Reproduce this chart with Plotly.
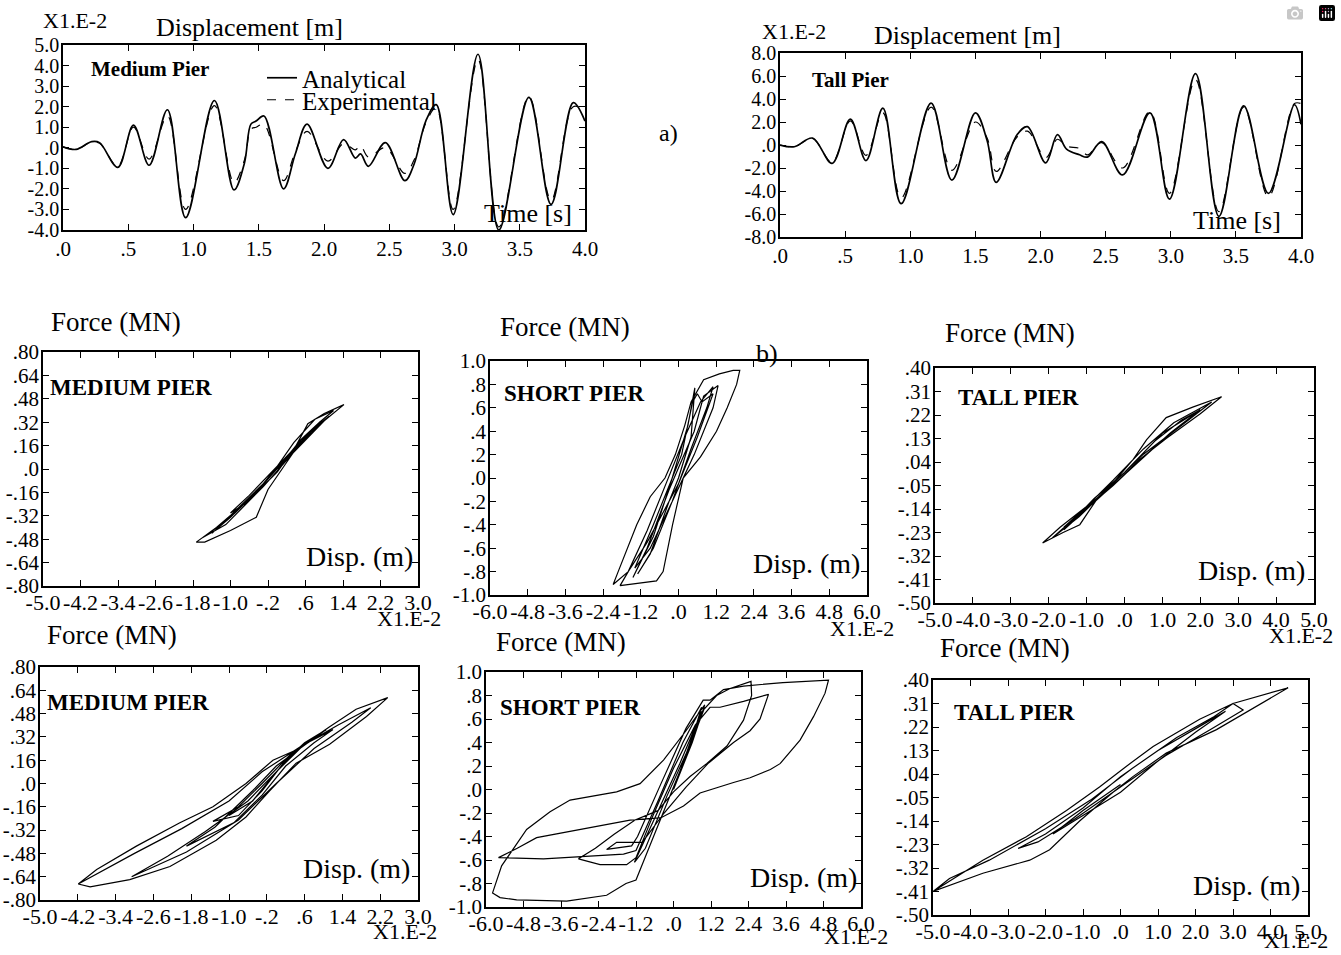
import plotly.graph_objects as go

W, H = 1341, 955
FONT = "Liberation Serif"

# ---------------- data: displacement time histories (x1e-2 m) ----------------
med_t = [0.00, 0.10, 0.22, 0.28, 0.42, 0.54, 0.66, 0.80, 0.94, 1.16, 1.31, 1.39, 1.44, 1.48, 1.54,
         1.69, 1.78, 1.87, 2.03, 2.15, 2.24, 2.28, 2.34, 2.47, 2.62, 2.69, 2.78, 2.86, 2.99, 3.18,
         3.34, 3.57, 3.74, 3.91, 4.00]
med_analytical = [0.05, -0.08, 0.30, 0.25, -0.95, 1.10, -0.85, 1.85, -3.40, 2.30, -2.05, -0.75, 1.15,
                  1.30, 1.55, -2.00, -0.30, 1.15, -1.00, 0.40, -0.50, -0.30, -0.90, 0.25, -1.60, -0.80,
                  1.30, 2.10, -3.25, 4.55, -4.00, 2.45, -2.75, 2.20, 1.30]
med_experimental = [0.05, -0.08, 0.28, 0.22, -0.90, 1.00, -0.55, 1.55, -3.00, 2.05, -1.70, -0.60, 0.90,
                    1.00, 1.15, -1.60, -0.20, 0.80, -0.65, 0.20, -0.10, 0.10, -0.45, 0.00, -1.25, -0.60,
                    1.20, 1.95, -3.00, 4.30, -3.85, 2.50, -2.55, 2.00, 1.80]

tall_t = [0.00, 0.11, 0.25, 0.40, 0.54, 0.66, 0.79, 0.93, 1.16, 1.32, 1.50, 1.59, 1.66, 1.82, 1.90,
          2.04, 2.13, 2.20, 2.30, 2.36, 2.47, 2.63, 2.84, 2.99, 3.19, 3.37, 3.56, 3.75, 3.95, 4.00]
tall_analytical = [0.00, -0.15, 0.60, -1.60, 2.25, -1.35, 3.20, -5.10, 3.65, -3.05, 2.80, 0.40, -3.25,
                   0.90, 1.60, -1.55, 0.90, -0.35, -0.85, -1.05, 0.30, -2.60, 2.80, -4.70, 6.20, -6.20,
                   3.40, -4.20, 3.50, 1.80]
tall_experimental = [0.00, -0.15, 0.55, -1.50, 2.10, -0.90, 2.80, -4.60, 3.30, -2.20, 2.00, 0.60, -2.30,
                     0.70, 1.20, -1.10, 0.50, -0.10, -0.30, -0.85, 0.20, -2.00, 2.90, -4.20, 5.70, -5.80,
                     3.30, -4.50, 3.60, 3.60]

# ---------------- data: force-displacement loops (disp x1e-2 m, force MN) ----------------
r2_medium_loop = [(0.0, 0.0), (0.5, 0.2), (0.9, 0.32), (0.6, 0.22), (0.0, 0.02), (-0.6, -0.18), (-1.0, -0.30),
                  (-0.7, -0.24), (0.0, -0.02), (0.4, 0.16), (0.65, 0.31), (1.0, 0.38), (1.42, 0.44), (1.0, 0.33),
                  (0.4, 0.14), (-0.2, -0.14), (-0.45, -0.33), (-1.0, -0.42), (-1.55, -0.50), (-1.73, -0.50),
                  (-1.3, -0.40), (-0.5, -0.18), (0.0, 0.02), (0.35, 0.18), (0.8, 0.34), (1.2, 0.40), (0.9, 0.32),
                  (0.3, 0.12), (-0.3, -0.10), (-1.2, -0.38), (-1.6, -0.47), (-1.1, -0.38), (-0.3, -0.12),
                  (0.2, 0.06), (0.7, 0.26), (1.1, 0.36), (0.8, 0.28), (0.2, 0.08), (-0.4, -0.14), (-0.9, -0.30),
                  (-1.4, -0.44), (-1.0, -0.33), (-0.4, -0.14), (0.1, 0.04), (0.6, 0.22), (1.0, 0.33),
                  (0.6, 0.20), (0.0, 0.0)]

r2_short_loop = [(0.0, 0.0), (0.4, 0.35), (0.52, 0.77), (0.3, 0.45), (-0.2, 0.0), (-0.8, -0.5), (-1.45, -0.85),
                 (-1.0, -0.6), (-0.3, -0.1), (0.5, 0.4), (0.8, 0.7), (1.26, 0.79), (1.1, 0.6), (0.5, 0.2),
                 (-0.2, -0.2), (-0.9, -0.6), (-1.39, -0.77), (-0.8, -0.4), (0.1, 0.2), (0.45, 0.65), (0.6, 0.72),
                 (0.75, 0.65), (1.1, 0.72), (0.6, 0.35), (0.0, -0.05), (-1.0, -0.55), (-1.6, -0.80),
                 (-2.08, -0.91), (-1.92, -0.80), (-1.6, -0.58), (-1.33, -0.40), (-0.9, -0.16), (-0.43, 0.0),
                 (-0.1, 0.2), (0.2, 0.45), (0.4, 0.65), (0.8, 0.84), (1.3, 0.89), (1.74, 0.92), (1.95, 0.92),
                 (1.85, 0.8), (1.55, 0.6), (1.21, 0.4), (0.7, 0.18), (0.15, 0.0), (-0.19, -0.4), (-0.35, -0.6),
                 (-0.49, -0.8), (-0.7, -0.88), (-1.23, -0.90), (-1.86, -0.92), (-1.6, -0.8), (-1.0, -0.45),
                 (-0.4, -0.05), (0.2, 0.35), (0.7, 0.65), (1.1, 0.78), (0.9, 0.6), (0.4, 0.25), (-0.2, -0.2),
                 (-0.8, -0.6), (-1.3, -0.82), (-0.9, -0.65), (-0.3, -0.2), (0.0, 0.0)]

r2_tall_loop = [(0.0, 0.0), (0.8, 0.12), (1.5, 0.2), (2.0, 0.24), (1.3, 0.16), (0.5, 0.06), (-0.3, -0.05),
                (-1.0, -0.13), (-1.6, -0.21), (-1.1, -0.15), (-0.3, -0.04), (0.23, 0.05), (0.58, 0.125),
                (1.1, 0.21), (1.8, 0.25), (2.56, 0.29), (2.0, 0.225), (1.1, 0.13), (0.4, 0.05), (-0.3, -0.05),
                (-0.74, -0.105), (-1.18, -0.20), (-1.62, -0.23), (-2.16, -0.27), (-1.7, -0.21), (-1.0, -0.13),
                (-0.3, -0.03), (0.5, 0.09), (1.3, 0.19), (2.3, 0.27), (1.5, 0.18), (0.5, 0.07), (-0.5, -0.07),
                (-1.2, -0.16), (-1.9, -0.25), (-1.2, -0.17), (0.0, 0.0), (1.0, 0.15), (2.0, 0.24), (1.2, 0.15),
                (0.0, -0.01), (-1.0, -0.14), (-1.6, -0.22), (-0.8, -0.10), (0.0, 0.0)]

r3_medium_loop = [(-4.19, -0.69), (-3.8, -0.59), (-2.96, -0.43), (-2.04, -0.27), (-1.34, -0.16), (-0.64, 0.0),
                  (-0.07, 0.16), (0.42, 0.23), (1.13, 0.39), (1.69, 0.51), (2.36, 0.59), (1.91, 0.46),
                  (1.13, 0.27), (0.42, 0.14), (-0.14, -0.05), (-0.64, -0.23), (-1.27, -0.39), (-2.25, -0.57),
                  (-3.1, -0.66), (-3.94, -0.71), (-4.19, -0.69), (-3.0, -0.48), (-2.0, -0.31), (-1.0, -0.12),
                  (-0.3, 0.08), (0.5, 0.25), (1.3, 0.40), (2.0, 0.52), (1.6, 0.42), (0.8, 0.24), (0.0, 0.0),
                  (-0.8, -0.25), (-1.9, -0.47), (-3.06, -0.64), (-2.3, -0.50), (-1.5, -0.33), (-0.6, -0.12),
                  (0.0, 0.08), (0.6, 0.27), (1.2, 0.37), (0.8, 0.28), (0.2, 0.12), (-0.3, -0.08), (-0.9, -0.27),
                  (-1.9, -0.43), (-1.3, -0.30), (-0.5, -0.05), (0.0, 0.12), (0.5, 0.24), (1.06, 0.37),
                  (0.6, 0.28), (0.2, 0.16), (-0.3, -0.05), (-0.8, -0.22), (-1.34, -0.26), (-0.8, -0.16),
                  (-0.3, 0.0), (0.3, 0.2), (0.9, 0.33), (0.5, 0.25), (0.0, 0.08), (-0.5, -0.12), (-1.0, -0.22)]

r3_short_loop = [(0.00, 0.00), (0.60, 0.45), (1.00, 0.70), (0.60, 0.42), (-0.20, -0.05), (-0.90, -0.50),
                 (-1.25, -0.62), (-0.60, -0.25), (0.20, 0.22), (0.90, 0.66), (1.38, 0.80), (1.81, 0.86),
                 (2.48, 0.92), (2.50, 0.80), (2.24, 0.59), (1.71, 0.37), (1.06, 0.22), (0.53, 0.11),
                 (0.00, -0.02), (-0.50, -0.18), (-1.23, -0.26), (-1.90, -0.38), (-2.50, -0.50), (-3.04, -0.59),
                 (-2.35, -0.64), (-1.50, -0.64), (-1.20, -0.58), (-0.70, -0.25), (0.00, 0.18), (0.70, 0.55),
                 (1.17, 0.70), (1.49, 0.70), (2.24, 0.75), (3.04, 0.81), (2.77, 0.60), (2.45, 0.50),
                 (1.92, 0.40), (1.10, 0.22), (0.40, 0.02), (-0.30, -0.20), (-1.00, -0.45), (-1.82, -0.45),
                 (-2.14, -0.51), (-1.34, -0.48), (-1.15, -0.40), (-0.40, 0.05), (0.40, 0.52), (0.95, 0.76),
                 (1.17, 0.76), (1.60, 0.85), (2.24, 0.88), (3.50, 0.91), (4.96, 0.93), (4.85, 0.82),
                 (4.48, 0.62), (4.05, 0.42), (3.41, 0.22), (3.10, 0.17), (2.45, 0.10), (1.92, 0.06),
                 (1.28, 0.01), (0.85, -0.03), (0.32, -0.14), (-0.40, -0.24), (-1.39, -0.26), (-2.40, -0.31),
                 (-3.42, -0.36), (-4.38, -0.41), (-5.00, -0.50), (-5.60, -0.58), (-4.16, -0.59), (-2.88, -0.57),
                 (-1.60, -0.55), (-1.20, -0.52), (-0.50, -0.10), (0.30, 0.40), (0.90, 0.70), (0.50, 0.35),
                 (-0.40, -0.25), (-1.20, -0.77), (-1.52, -0.80), (-2.14, -0.90), (-3.42, -0.95), (-5.02, -0.94),
                 (-5.55, -0.92), (-5.79, -0.88), (-5.50, -0.65), (-4.70, -0.34), (-3.95, -0.19), (-3.31, -0.09),
                 (-1.82, -0.02), (-1.07, 0.05), (-0.32, 0.25), (0.40, 0.50), (1.00, 0.72), (0.60, 0.40),
                 (0.00, 0.00)]

r3_tall_loop = [(-5.0, -0.41), (-3.67, -0.34), (-2.42, -0.29), (-1.89, -0.25), (-1.09, -0.14), (-0.2, -0.03),
                (0.33, 0.03), (1.22, 0.12), (2.56, 0.21), (4.47, 0.37), (3.0, 0.31), (2.11, 0.25), (0.87, 0.145),
                (0.16, 0.07), (-0.56, -0.01), (-1.44, -0.10), (-2.51, -0.20), (-3.67, -0.29), (-5.0, -0.41),
                (-4.56, -0.36), (-3.5, -0.29), (-2.0, -0.17), (-0.8, -0.06), (0.3, 0.06), (1.5, 0.18),
                (2.5, 0.26), (3.0, 0.31), (3.27, 0.285), (2.4, 0.21), (1.2, 0.11), (0.0, -0.01), (-1.2, -0.13),
                (-2.2, -0.22), (-2.73, -0.245), (-2.0, -0.19), (-1.0, -0.09), (0.0, 0.03), (1.0, 0.13),
                (2.2, 0.23), (2.8, 0.28), (2.0, 0.2), (1.0, 0.09), (0.0, -0.03), (-1.0, -0.12), (-1.8, -0.19),
                (-1.0, -0.1), (0.0, 0.0)]

# ---------------- tick labels ----------------
time_ticks = [0.0, 0.5, 1.0, 1.5, 2.0, 2.5, 3.0, 3.5, 4.0]
time_text = [".0", ".5", "1.0", "1.5", "2.0", "2.5", "3.0", "3.5", "4.0"]
med_disp_ticks = [5.0, 4.0, 3.0, 2.0, 1.0, 0.0, -1.0, -2.0, -3.0, -4.0]
med_disp_text = ["5.0", "4.0", "3.0", "2.0", "1.0", ".0", "-1.0", "-2.0", "-3.0", "-4.0"]
tall_disp_ticks = [8.0, 6.0, 4.0, 2.0, 0.0, -2.0, -4.0, -6.0, -8.0]
tall_disp_text = ["8.0", "6.0", "4.0", "2.0", ".0", "-2.0", "-4.0", "-6.0", "-8.0"]

med_x_ticks = [-5.0, -4.2, -3.4, -2.6, -1.8, -1.0, -0.2, 0.6, 1.4, 2.2, 3.0]
med_x_text = ["-5.0", "-4.2", "-3.4", "-2.6", "-1.8", "-1.0", "-.2", ".6", "1.4", "2.2", "3.0"]
med_f_ticks = [0.80, 0.64, 0.48, 0.32, 0.16, 0.0, -0.16, -0.32, -0.48, -0.64, -0.80]
med_f_text = [".80", ".64", ".48", ".32", ".16", ".0", "-.16", "-.32", "-.48", "-.64", "-.80"]
short_x_ticks = [-6.0, -4.8, -3.6, -2.4, -1.2, 0.0, 1.2, 2.4, 3.6, 4.8, 6.0]
short_x_text = ["-6.0", "-4.8", "-3.6", "-2.4", "-1.2", ".0", "1.2", "2.4", "3.6", "4.8", "6.0"]
short_f_ticks = [1.0, 0.8, 0.6, 0.4, 0.2, 0.0, -0.2, -0.4, -0.6, -0.8, -1.0]
short_f_text = ["1.0", ".8", ".6", ".4", ".2", ".0", "-.2", "-.4", "-.6", "-.8", "-1.0"]
tall_x_ticks = [-5.0, -4.0, -3.0, -2.0, -1.0, 0.0, 1.0, 2.0, 3.0, 4.0, 5.0]
tall_x_text = ["-5.0", "-4.0", "-3.0", "-2.0", "-1.0", ".0", "1.0", "2.0", "3.0", "4.0", "5.0"]
tall_f_ticks = [0.40, 0.31, 0.22, 0.13, 0.04, -0.05, -0.14, -0.23, -0.32, -0.41, -0.50]
tall_f_text = [".40", ".31", ".22", ".13", ".04", "-.05", "-.14", "-.23", "-.32", "-.41", "-.50"]

# ---------------- layout helpers ----------------
def axis(lo, hi, rng, vals, text, horizontal, anchor, fsize, standoff):
    if horizontal:
        dom = [lo / W, hi / W]
    else:
        dom = [1 - hi / H, 1 - lo / H]
    return dict(domain=dom, range=rng, tickmode="array", tickvals=vals, ticktext=text,
                showline=True, linecolor="black", linewidth=1.6, mirror="ticks",
                ticks="inside", ticklen=6, tickwidth=1.4, tickcolor="black", tickangle=0,
                showgrid=False, zeroline=False, anchor=anchor, automargin=False,
                ticklabelstandoff=standoff,
                tickfont=dict(family=FONT, size=fsize, color="black"), fixedrange=True)

# (x0, x1, y0, y1) pixel boxes, x-range, y-range, ticks, tick font sizes, x-label standoff
panels = [
    ((63, 585, 45, 230), [0, 4], [-4, 5], (time_ticks, time_text), (med_disp_ticks, med_disp_text), 21, 20, -1),
    ((780, 1301, 53, 237), [0, 4], [-8, 8], (time_ticks, time_text), (tall_disp_ticks, tall_disp_text), 21, 20, -1),
    ((43, 418, 352, 586), [-5, 3], [-0.8, 0.8], (med_x_ticks, med_x_text), (med_f_ticks, med_f_text), 22, 21, -4),
    ((490, 867, 361, 595), [-6, 6], [-1, 1], (short_x_ticks, short_x_text), (short_f_ticks, short_f_text), 22, 21, -4),
    ((935, 1314, 368, 603), [-5, 5], [-0.5, 0.4], (tall_x_ticks, tall_x_text), (tall_f_ticks, tall_f_text), 22, 21, -4),
    ((40, 418, 667, 900), [-5, 3], [-0.8, 0.8], (med_x_ticks, med_x_text), (med_f_ticks, med_f_text), 22, 21, -4),
    ((486, 861, 672, 907), [-6, 6], [-1, 1], (short_x_ticks, short_x_text), (short_f_ticks, short_f_text), 22, 21, -4),
    ((933, 1308, 680, 915), [-5, 5], [-0.5, 0.4], (tall_x_ticks, tall_x_text), (tall_f_ticks, tall_f_text), 22, 21, -4),
]

legend_style = dict(xanchor="left", yanchor="top", bgcolor="rgba(0,0,0,0)", borderwidth=0,
                    font=dict(family=FONT, size=25, color="black"), itemwidth=30)
layout = dict(width=W, height=H, autosize=False,
              margin=dict(l=0, r=0, t=0, b=0, pad=0, autoexpand=False),
              paper_bgcolor="white", plot_bgcolor="white",
              font=dict(family=FONT, color="black"),
              showlegend=True,
              legend=dict(x=262 / W, y=1 - 55 / H, **legend_style),
              legend2=dict(x=262 / W, y=1 - 77 / H, **legend_style))

for i, (box, xr, yr, xt, yt, fx, fy, so) in enumerate(panels, start=1):
    x0, x1, y0, y1 = box
    sx = "" if i == 1 else str(i)
    layout["xaxis" + sx] = axis(x0, x1, xr, xt[0], xt[1], True, "y" + sx, fx, so)
    layout["yaxis" + sx] = axis(y0, y1, yr, yt[0], yt[1], False, "x" + sx, fy, -2)

fig = go.Figure(layout=layout)

# time histories
fig.add_trace(go.Scatter(x=med_t, y=med_analytical, mode="lines", name="Analytical", legend="legend",
                         line=dict(color="black", width=1.7, shape="spline"), xaxis="x", yaxis="y"))
fig.add_trace(go.Scatter(x=med_t, y=med_experimental, mode="lines", name="Experimental", legend="legend2",
                         line=dict(color="black", width=1.2, dash="dash", shape="spline"), xaxis="x", yaxis="y"))
fig.add_trace(go.Scatter(x=tall_t, y=tall_analytical, mode="lines", showlegend=False,
                         line=dict(color="black", width=1.7, shape="spline"), xaxis="x2", yaxis="y2"))
fig.add_trace(go.Scatter(x=tall_t, y=tall_experimental, mode="lines", showlegend=False,
                         line=dict(color="black", width=1.2, dash="dash", shape="spline"), xaxis="x2", yaxis="y2"))

loops = [r2_medium_loop, r2_short_loop, r2_tall_loop, r3_medium_loop, r3_short_loop, r3_tall_loop]
for k, loop in enumerate(loops, start=3):
    d = [p[0] for p in loop]
    f = [p[1] for p in loop]
    fig.add_trace(go.Scatter(x=d, y=f, mode="lines", showlegend=False,
                             line=dict(color="black", width=1.2),
                             xaxis="x" + str(k), yaxis="y" + str(k)))

# text labels (pixel positions of centres)
def label(text, x, y, size, bold=False):
    fig.add_annotation(text=("<b>%s</b>" % text) if bold else text, x=x / W, y=1 - y / H,
                       xref="paper", yref="paper", showarrow=False, xanchor="center", yanchor="middle",
                       font=dict(family=FONT, size=size, color="black"))

labels = [
    ("X1.E-2", 75, 20, 22, False), ("Displacement [m]", 249, 27, 26, False),
    ("Medium Pier", 150, 69, 21, True), ("Time [s]", 528, 213, 26, False),
    ("X1.E-2", 794, 32, 22, False), ("Displacement [m]", 967, 36, 26, False),
    ("Tall Pier", 850, 80, 21, True), ("Time [s]", 1237, 220, 26, False),
    ("a)", 668, 133, 24, False), ("b)", 767, 353, 26, False),
    ("Force (MN)", 116, 322, 27, False), ("MEDIUM PIER", 131, 388, 23, True),
    ("Disp. (m)", 359, 556, 28, False), ("X1.E-2", 409, 618, 22, False),
    ("Force (MN)", 565, 327, 27, False), ("SHORT PIER", 574, 393, 23, True),
    ("Disp. (m)", 806, 563, 28, False), ("X1.E-2", 862, 628, 22, False),
    ("Force (MN)", 1010, 333, 27, False), ("TALL PIER", 1018, 397, 23, True),
    ("Disp. (m)", 1251, 570, 28, False), ("X1.E-2", 1301, 635, 22, False),
    ("Force (MN)", 112, 635, 27, False), ("MEDIUM PIER", 128, 702, 23, True),
    ("Disp. (m)", 356, 868, 28, False), ("X1.E-2", 405, 931, 22, False),
    ("Force (MN)", 561, 642, 27, False), ("SHORT PIER", 570, 707, 23, True),
    ("Disp. (m)", 803, 877, 28, False), ("X1.E-2", 856, 936, 22, False),
    ("Force (MN)", 1005, 648, 27, False), ("TALL PIER", 1014, 712, 23, True),
    ("Disp. (m)", 1246, 885, 28, False), ("X1.E-2", 1296, 940, 22, False),
]
for t, x, y, s, b in labels:
    label(t, x, y, s, b)

fig.write_html("out.html", post_script="document.body.style.margin='0';document.body.style.overflow='hidden';")
